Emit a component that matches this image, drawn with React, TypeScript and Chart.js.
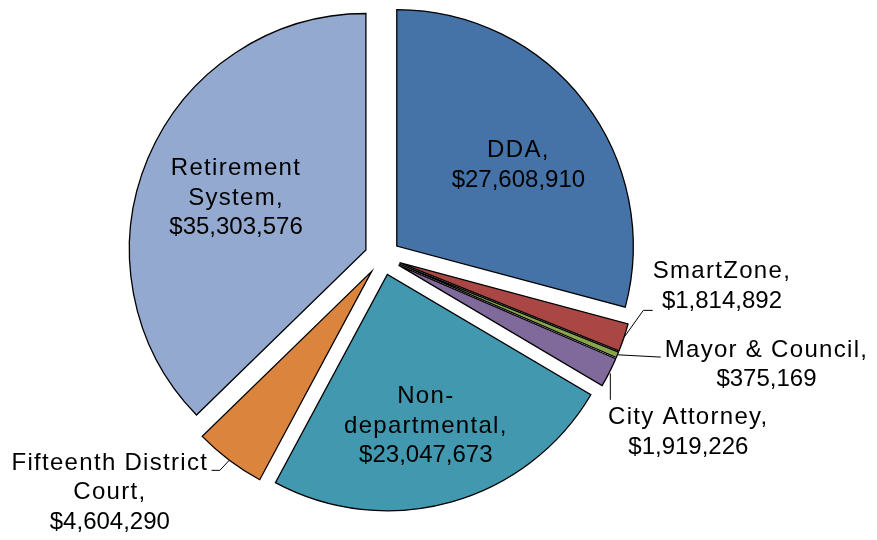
import React, { useEffect, useRef } from "react";
import { Chart, registerables } from "chart.js";

Chart.register(...registerables);

// ---- data ----
const categories = [
  "DDA",
  "SmartZone",
  "Mayor & Council",
  "City Attorney",
  "Non-departmental",
  "Fifteenth District Court",
  "Retirement System",
];
const values = [27608910, 1814892, 375169, 1919226, 23047673, 4604290, 35303576];
const nameLines = [
  ["DDA,"],
  ["SmartZone,"],
  ["Mayor & Council,"],
  ["City Attorney,"],
  ["Non-", "departmental,"],
  ["Fifteenth District", "Court,"],
  ["Retirement", "System,"],
];

// ---- styles / layout ----
const colors = ["#4572A7", "#AA4643", "#89A54E", "#80699B", "#4198AF", "#DB843D", "#93A9CF"];
const EXPLODE = 18;
const RADIUS = 236.5;
const LINE_H = 29.5;
const FONT = '24px "Liberation Sans", Arial, sans-serif';
// label anchor (first-line baseline centre) as offset from the slice's outer edge point at its mid angle
const labelOffsets = [
  [-66, 55],
  [98, -59],
  [149, 2],
  [79, 52],
  [-25, -99],
  [-119.5, 9.5],
  [88, 17],
];
// leader line polylines, offsets from the same edge point
const leaders: number[][][] = [
  [],
  [[0, 0], [19.4, -27.1], [28.8, -27.1]],
  [[0, 0], [43.3, 2.3]],
  [[1, 1], [1, 27.4]],
  [],
  [[0, 0], [-9.5, 10.1], [-17.8, 10.1]],
  [],
];

const fmt = (v: number) => "$" + v.toLocaleString("en-US");

const explodePlugin = {
  id: "explode",
  afterDatasetsUpdate(chart: any) {
    const meta = chart.getDatasetMeta(0);
    meta.data.forEach((arc: any) => {
      const mid = (arc.startAngle + arc.endAngle) / 2;
      arc.x += Math.cos(mid) * EXPLODE;
      arc.y += Math.sin(mid) * EXPLODE;
    });
  },
};

const labelPlugin = {
  id: "sliceLabels",
  afterDatasetsDraw(chart: any) {
    const ctx = chart.ctx as CanvasRenderingContext2D;
    const meta = chart.getDatasetMeta(0);
    meta.data.forEach((arc: any, i: number) => {
      const mid = (arc.startAngle + arc.endAngle) / 2;
      const ex = arc.x + Math.cos(mid) * arc.outerRadius;
      const ey = arc.y + Math.sin(mid) * arc.outerRadius;
      ctx.save();
      const pts = leaders[i];
      if (pts.length) {
        ctx.beginPath();
        ctx.strokeStyle = "#000";
        ctx.lineWidth = 1;
        pts.forEach((p, k) => {
          if (k === 0) ctx.moveTo(ex + p[0], ey + p[1]);
          else ctx.lineTo(ex + p[0], ey + p[1]);
        });
        ctx.stroke();
      }
      const lines = [...nameLines[i], fmt(values[i])];
      const ax = ex + labelOffsets[i][0];
      const ay = ey + labelOffsets[i][1];
      ctx.font = FONT;
      ctx.fillStyle = "#000";
      ctx.textAlign = "center";
      ctx.textBaseline = "alphabetic";
      lines.forEach((t, k) => {
        const isNum = k === lines.length - 1;
        (ctx as any).letterSpacing = isNum ? "0px" : "1.3px";
        ctx.fillText(t, ax, ay + k * LINE_H);
      });
      ctx.restore();
    });
  },
};

export default function App() {
  const ref = useRef<HTMLCanvasElement>(null);
  useEffect(() => {
    const chart = new Chart(ref.current!, {
      type: "pie",
      data: {
        labels: categories,
        datasets: [
          {
            data: values,
            backgroundColor: colors,
            borderColor: "#000",
            borderWidth: 1.3,
            borderJoinStyle: "miter",
          } as any,
        ],
      },
      options: {
        responsive: false,
        animation: false,
        radius: RADIUS,
        layout: { padding: { left: 0, right: 112, top: 0, bottom: 26 } },
        plugins: {
          legend: { display: false },
          tooltip: { enabled: false },
        },
      } as any,
      plugins: [explodePlugin, labelPlugin],
    });
    return () => chart.destroy();
  }, []);
  return (
    <div style={{ position: "absolute", left: 0, top: 0, width: 877, height: 540, background: "#fff" }}>
      <canvas ref={ref} width={877} height={540} style={{ display: "block" }} />
    </div>
  );
}
